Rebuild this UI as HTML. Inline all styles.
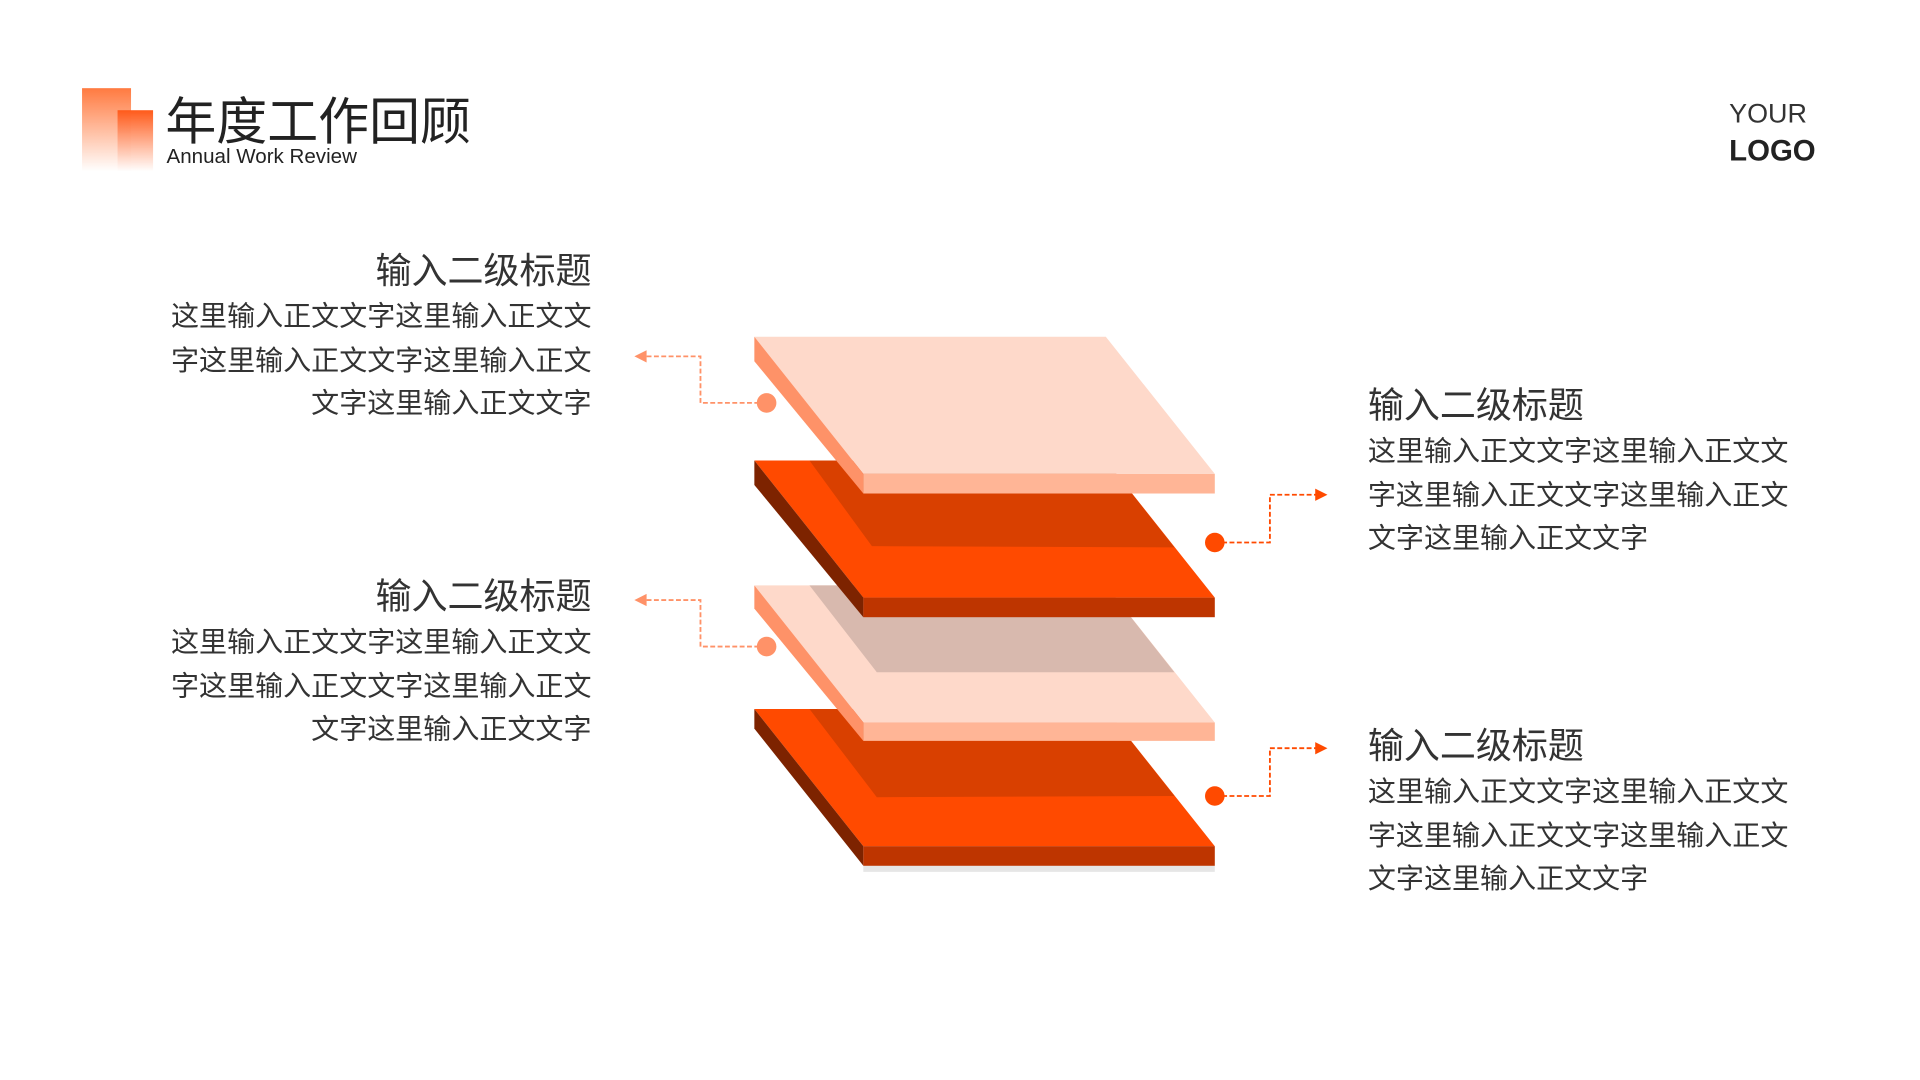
<!DOCTYPE html>
<html><head><meta charset="utf-8"><style>
html,body{margin:0;padding:0;background:#fff;overflow:hidden;}
#w{position:absolute;left:0;top:0;width:1570px;height:882px;transform:scale(1.2246);transform-origin:0 0;font-family:"Liberation Sans","Noto Sans CJK SC",sans-serif;color:#333;}
.t{position:absolute;white-space:nowrap;}
.h{font-size:29.4px;line-height:34px;}
.b{font-size:22.9px;line-height:35.5px;}
.L{text-align:right;width:400px;}
</style></head><body><div id="w">
<div style="position:absolute;left:67px;top:72px;width:40px;height:68px;background:linear-gradient(#ff7a40,rgba(255,255,255,0.9))"></div>
<div style="position:absolute;left:96px;top:90px;width:29px;height:50px;background:linear-gradient(#ff5a1a,rgba(255,255,255,0.9))"></div>
<div class="t" style="left:135px;top:75px;font-size:41.6px;line-height:50px;color:#222">年度工作回顾</div>
<div class="t" style="left:136px;top:118px;font-size:16.8px;line-height:20px;color:#222">Annual Work Review</div>
<div class="t" style="left:1412px;top:80px;font-size:22px;line-height:26px;color:#333">YOUR</div>
<div class="t" style="left:1412px;top:109px;font-size:24px;line-height:30px;font-weight:bold;color:#222">LOGO</div>

<svg style="position:absolute;left:0;top:0" width="1570" height="882">
<g>
<polygon points="705,707 992,707 992,712 705,712" fill="#e6e6e6"/>
<polygon points="616,579 903,579 992,691 705,691" fill="#ff4a00"/>
<polygon points="661,579 903,579 959,650 716,651" fill="#d94000"/>
<polygon points="616,579 705,691 705,707 616,595" fill="#7d2300"/>
<rect x="705" y="691" width="287" height="16" fill="#be3500"/>

<polygon points="616,478 903,478 992,590 705,590" fill="#fed9ca"/>
<polygon points="661,478 903,478 959,549 716,549" fill="#d8b9ae"/>
<polygon points="616,478 705,590 705,605 616,497" fill="#fe9268"/>
<rect x="705" y="590" width="287" height="15" fill="#ffb596"/>

<polygon points="616,376 903,376 992,488 705,488" fill="#ff4a00"/>
<polygon points="661,376 903,376 959,447 712,446" fill="#d94000"/>
<polygon points="616,376 705,488 705,504 616,396" fill="#7d2300"/>
<rect x="705" y="488" width="287" height="16" fill="#be3500"/>

<polygon points="616,275 903,275 992,387 705,387" fill="#fed9ca"/>
<polygon points="616,275 705,387 705,403 616,295" fill="#fe9268"/>
<rect x="705" y="387" width="287" height="16" fill="#ffb596"/>
</g>
<g fill="none" stroke-width="1.5" stroke-dasharray="4,2">
<polyline points="626,329 572,329 572,291 527,291" stroke="#ff9268"/>
<polyline points="626,528 572,528 572,490 527,490" stroke="#ff9268"/>
<polyline points="992,443 1037,443 1037,404 1076,404" stroke="#ff4a00"/>
<polyline points="992,650 1037,650 1037,611 1076,611" stroke="#ff4a00"/>
</g>
<circle cx="626" cy="329" r="8" fill="#ff9268"/>
<circle cx="626" cy="528" r="8" fill="#ff9268"/>
<circle cx="992" cy="443" r="8" fill="#ff4a00"/>
<circle cx="992" cy="650" r="8" fill="#ff4a00"/>
<polygon points="518,291 528,286 528,296" fill="#ff9268"/>
<polygon points="518,490 528,485 528,495" fill="#ff9268"/>
<polygon points="1084,404 1074,399 1074,409" fill="#ff4a00"/>
<polygon points="1084,611 1074,606 1074,616" fill="#ff4a00"/>
</svg>

<div class="t h L" style="left:83px;top:205px">输入二级标题</div>
<div class="t b L" style="left:83px;top:241px">这里输入正文文字这里输入正文文<br>字这里输入正文文字这里输入正文<br>文字这里输入正文文字</div>
<div class="t h L" style="left:83px;top:471px">输入二级标题</div>
<div class="t b L" style="left:83px;top:507px">这里输入正文文字这里输入正文文<br>字这里输入正文文字这里输入正文<br>文字这里输入正文文字</div>
<div class="t h" style="left:1117px;top:315px">输入二级标题</div>
<div class="t b" style="left:1117px;top:351px">这里输入正文文字这里输入正文文<br>字这里输入正文文字这里输入正文<br>文字这里输入正文文字</div>
<div class="t h" style="left:1117px;top:593px">输入二级标题</div>
<div class="t b" style="left:1117px;top:629px">这里输入正文文字这里输入正文文<br>字这里输入正文文字这里输入正文<br>文字这里输入正文文字</div>
</div></body></html>
